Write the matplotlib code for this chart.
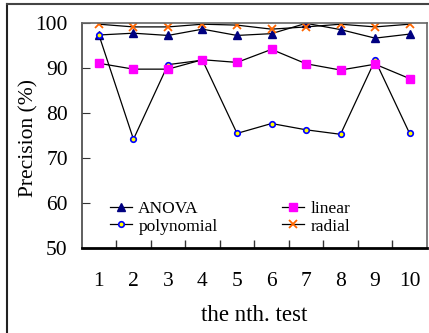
import matplotlib
matplotlib.use("Agg")
import matplotlib.pyplot as plt
from matplotlib.lines import Line2D

# precision (%) for each kernel over the ten tests
tests = [1, 2, 3, 4, 5, 6, 7, 8, 9, 10]
anova = [97.4, 97.8, 97.3, 98.7, 97.3, 97.7, 100.0, 98.6, 96.7, 97.6]
linear = [91.1, 89.8, 89.8, 91.9, 91.3, 94.2, 91.0, 89.6, 90.9, 87.7]
polynomial = [97.4, 74.2, 90.8, 91.8, 75.5, 77.7, 76.3, 75.3, 91.8, 75.5]
radial = [99.8, 99.2, 99.2, 99.8, 99.6, 98.7, 99.2, 99.8, 99.2, 99.8]

plt.rcParams['font.family'] = ['Liberation Serif', 'DejaVu Serif']

fig = plt.figure(figsize=(4.29, 3.33), dpi=100)
ax = fig.add_axes([0.1904, 0.2553, 0.8046, 0.6747])

# outer frame (left and top edges visible in the picture)
fig.add_artist(Line2D([0.016, 0.016], [0.0, 0.988], transform=fig.transFigure, color='#222222', lw=1.5))
fig.add_artist(Line2D([0.016, 1.0], [0.988, 0.988], transform=fig.transFigure, color='#444444', lw=1.5))

ax.plot(tests, anova, color='black', lw=0.9, marker='^', ms=5.5, mfc='#000080', mec='#000080', label='ANOVA')
ax.plot(tests, polynomial, color='black', lw=0.9, marker='o', ms=4, mfc='yellow', mec='#0000ff', mew=1.2, label='polynomial')
ax.plot(tests, linear, color='black', lw=0.9, marker='s', ms=5.5, mfc='#ff00ff', mec='#ff00ff', label='linear')
ax.plot(tests, radial, color='black', lw=0.9, marker='x', ms=6, mec='#ff6600', mew=1.3, label='radial')

ax.set_xlim(0.5, 10.5)
ax.set_ylim(50, 100)
ax.set_yticks([50, 60, 70, 80, 90, 100])
ax.set_xticks(tests)
ax.set_xticks([1.5 + i for i in range(9)], minor=True)
ax.tick_params(axis='x', which='major', length=0, pad=17.5, labelsize=15.5)
ax.tick_params(axis='x', which='minor', direction='in', length=6, width=1, color='#333333')
ax.tick_params(axis='y', direction='in', length=6, pad=10, labelsize=15.5, color='#333333')

ax.spines['bottom'].set_linewidth(2)
ax.spines['bottom'].set_color('black')
ax.spines['left'].set_color('#444444')
ax.spines['top'].set_color('#666666')
ax.spines['right'].set_color('#666666')
for s in ['left', 'top', 'right']:
    ax.spines[s].set_linewidth(1.2)

ax.set_xlabel('the nth. test', fontsize=16.5, labelpad=10)
ax.set_ylabel('Precision (%)', fontsize=15.5)
ax.yaxis.set_label_coords(-0.125, 0.489)

ax.legend(ncol=2, loc='lower left', bbox_to_anchor=(0.081, 0.06), frameon=False,
          fontsize=12.5, handlelength=1.3, handletextpad=0.35, columnspacing=3.7,
          labelspacing=0.05, borderaxespad=0, borderpad=0)

fig.savefig('out.png', dpi=100)
